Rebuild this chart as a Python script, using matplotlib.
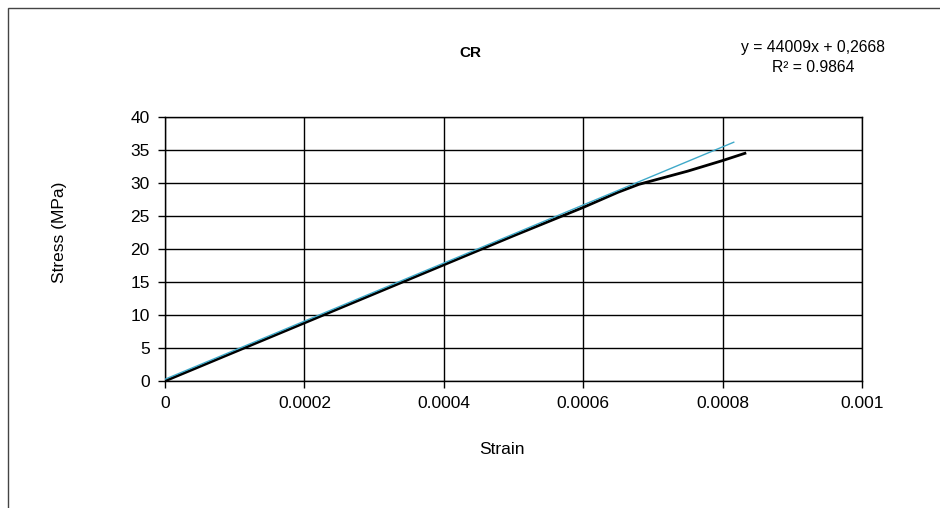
import matplotlib
matplotlib.use("Agg")
import matplotlib.pyplot as plt
import numpy as np
from matplotlib.patches import Rectangle

plt.rcParams['font.family'] = ['Liberation Sans', 'DejaVu Sans']

strain = [0, 0.0001, 0.0002, 0.0003, 0.0004, 0.0005, 0.0006, 0.00065,
          0.00068, 0.00075, 0.0008, 0.000832]
stress = [0, 4.4, 8.8, 13.2, 17.6, 22.0, 26.3, 28.6,
          29.8, 31.8, 33.4, 34.5]

# linear trendline
slope = 44009
intercept = 0.2668
r2 = 0.9864
trend_x = [0, 0.000816]

xticks = [0, 0.0002, 0.0004, 0.0006, 0.0008, 0.001]
xticklabels = ["0", "0.0002", "0.0004", "0.0006", "0.0008", "0.001"]
yticks = [0, 5, 10, 15, 20, 25, 30, 35, 40]

fig = plt.figure(figsize=(9.4, 5.08), dpi=100)
ax = fig.add_axes([165/940, 1 - 381/508, (862 - 165)/940, (381 - 117)/508])

ax.plot(strain, stress, color="black", linewidth=2.0, zorder=3)
ty = [slope * x + intercept for x in trend_x]
ax.plot(trend_x, ty, color="#3fa9c9", linewidth=1.0, zorder=4)

ax.set_xlim(0, 0.001)
ax.set_ylim(0, 40)
ax.set_xticks(xticks)
ax.set_xticklabels(xticklabels)
ax.set_yticks(yticks)
ax.grid(True, color="black", linewidth=1.0)
ax.set_axisbelow(True)
for s in ax.spines.values():
    s.set_color("black")
    s.set_linewidth(1.0)
ax.tick_params(direction="out", length=5, width=1, color="black",
               labelsize=12.5, pad=6)

fig.text(470/940, 1 - 53/508, "CR", ha="center", va="center",
         fontsize=11, fontweight="bold")
fig.text(813/940, 1 - 47/508, f"y = {slope}x + 0,2668", ha="center",
         va="center", fontsize=11.3)
fig.text(813/940, 1 - 67/508, f"R² = {r2}", ha="center", va="center",
         fontsize=11.3)
fig.text(60/940, 1 - 232/508, "Stress (MPa)", rotation=90, ha="center",
         va="center", fontsize=12.5)
fig.text(502/940, 1 - 449/508, "Strain", ha="center", va="center",
         fontsize=12.5)

# outer chart-area border
fig.patches.append(Rectangle((8/940, -0.1), 1.2, 1 - 8/508 + 0.1,
                             transform=fig.transFigure, fill=False,
                             edgecolor="#444444", linewidth=1.0))

fig.savefig("out.png", dpi=100)
